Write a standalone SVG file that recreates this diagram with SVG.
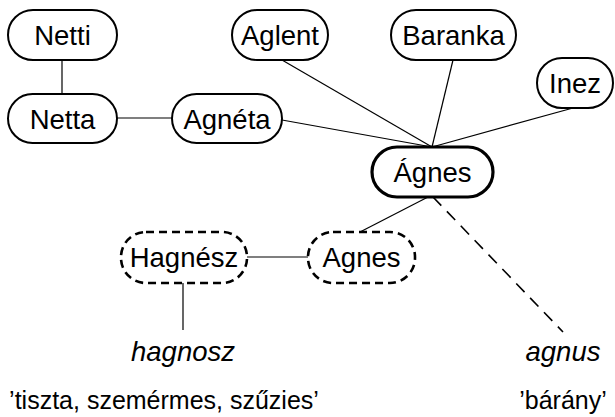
<svg xmlns="http://www.w3.org/2000/svg" width="615" height="417" viewBox="0 0 615 417">
<style>
.n{fill:#fff;stroke:#000;stroke-width:2}
.main{stroke-width:3.2}
.dash{stroke-width:2.6;stroke-dasharray:8 5}
.t{font-family:"Liberation Sans",Arial,sans-serif;font-size:27.5px;text-anchor:middle;fill:#000}
.i{font-style:italic}
.g{font-size:25px}
.c{stroke:#000;stroke-width:1.2;fill:none}
.cd{stroke-width:1.6;stroke-dasharray:12 8}
</style>
<rect width="615" height="417" fill="#fff"/>
<g id="connectors">
<line class="c" x1="62" y1="60" x2="62" y2="94"/>
<line class="c" x1="117" y1="118" x2="172" y2="118"/>
<line class="c" x1="282" y1="120" x2="432" y2="147"/>
<line class="c" x1="282" y1="60" x2="432" y2="147"/>
<line class="c" x1="453" y1="60" x2="432" y2="147"/>
<line class="c" x1="573" y1="108" x2="432" y2="147"/>
<line class="c" x1="428" y1="197" x2="360" y2="232"/>
<line class="c" x1="247" y1="257" x2="308" y2="257"/>
<line class="c" x1="183" y1="283" x2="183" y2="330"/>
<line class="c cd" x1="433" y1="197" x2="563" y2="332"/>
</g>
<g id="netti"><rect class="n" x="8" y="10" width="109" height="50" rx="25"/><text class="t" x="62.5" y="44.5">Netti</text></g>
<g id="netta"><rect class="n" x="8" y="94" width="109" height="49" rx="24.5"/><text class="t" x="62.5" y="128.5">Netta</text></g>
<g id="agneta"><rect class="n" x="172" y="94" width="110" height="49" rx="24.5"/><text class="t" x="227" y="128.5">Agnéta</text></g>
<g id="aglent"><rect class="n" x="232" y="10" width="96" height="50" rx="25"/><text class="t" x="280" y="44.5">Aglent</text></g>
<g id="baranka"><rect class="n" x="391" y="10" width="125" height="50" rx="25"/><text class="t" x="453.5" y="44.5">Baranka</text></g>
<g id="inez"><rect class="n" x="537" y="58" width="76" height="50" rx="25"/><text class="t" x="575" y="92.5">Inez</text></g>
<g id="agnes-main"><rect class="n main" x="372" y="147" width="121" height="50" rx="25"/><text class="t" x="432.5" y="181.5">Ágnes</text></g>
<g id="hagnesz"><rect class="n dash" x="121" y="232" width="126" height="51" rx="25"/><text class="t" x="184" y="266.5">Hagnész</text></g>
<g id="agnes"><rect class="n dash" x="308" y="232" width="107" height="51" rx="25"/><text class="t" x="361.5" y="266.5">Agnes</text></g>
<g id="hagnosz"><text class="t i" x="183" y="361">hagnosz</text></g>
<g id="agnus"><text class="t i" x="563" y="361">agnus</text></g>
<g id="gloss1"><text class="t g" x="164" y="409">’tiszta, szemérmes, szűzies’</text></g>
<g id="gloss2"><text class="t g" x="563" y="409">’bárány’</text></g>
</svg>
